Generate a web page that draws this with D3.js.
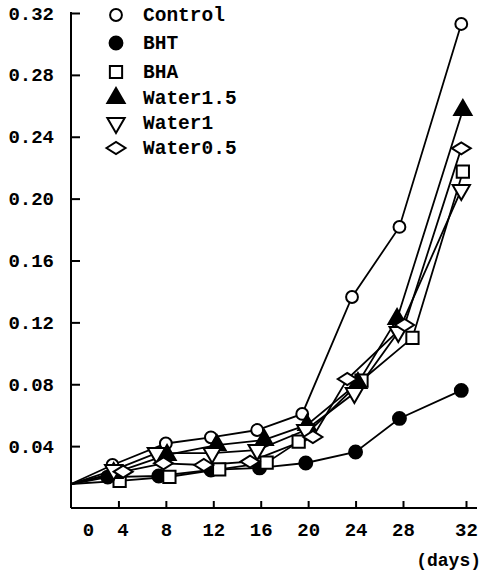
<!DOCTYPE html>
<html>
<head>
<meta charset="utf-8">
<script src="https://cdn.jsdelivr.net/npm/d3@7"></script>
<style>
  html, body { margin: 0; padding: 0; background: #fff; }
  svg text { font-family: "Liberation Mono", "DejaVu Sans Mono", monospace; font-weight: bold; fill: #000; }
</style>
</head>
<body>
<div id="chart"></div>
<script>
(() => {
// series (days are where each marker sits, values on the y axis)
const seriesNames = ['Control', 'BHT', 'BHA', 'Water1.5', 'Water1', 'Water0.5'];

const controlDays = [0, 3.5, 8, 11.8, 15.7, 19.5, 23.7, 27.7, 31.7];
const controlValues = [0.0155, 0.0278, 0.0417, 0.0457, 0.0504, 0.0608, 0.1364, 0.1817, 0.3129];

const bhtDays = [0, 3.1, 7.4, 11.8, 15.9, 19.8, 24.0, 27.7, 31.7];
const bhtValues = [0.0155, 0.0200, 0.0207, 0.0246, 0.0259, 0.0291, 0.0362, 0.0579, 0.0760];

const bhaDays = [0, 4.1, 8.3, 12.5, 16.5, 19.2, 24.5, 28.6, 31.8];
const bhaValues = [0.0155, 0.0175, 0.0202, 0.0250, 0.0293, 0.0429, 0.0824, 0.1100, 0.2174];

const water15Days = [0, 3.6, 8.1, 12.3, 16.3, 19.9, 24.2, 27.5, 31.8];
const water15Values = [0.0155, 0.0226, 0.0343, 0.0407, 0.0440, 0.0537, 0.0808, 0.1222, 0.2573];

const water1Days = [0, 3.6, 7.2, 11.9, 15.7, 19.8, 23.9, 27.6, 31.7];
const water1Values = [0.0155, 0.0245, 0.0355, 0.0355, 0.0375, 0.0504, 0.0743, 0.1138, 0.2056];

const water05Days = [0, 4.4, 7.8, 11.2, 15.1, 20.4, 23.3, 28.1, 31.7];
const water05Values = [0.0155, 0.0235, 0.0289, 0.0278, 0.0300, 0.0459, 0.0834, 0.1183, 0.2325];

const xTicks = [0, 4, 8, 12, 16, 20, 24, 28, 32];
const yTicks = [0.04, 0.08, 0.12, 0.16, 0.20, 0.24, 0.28, 0.32];

const width = 489;
const height = 572;

// the printed x axis is not quite even: the last step (28 -> 32) is drawn wider
const x = d3.scaleLinear().domain([0, 28, 32]).range([71, 403, 466]);
const y = d3.scaleLinear().domain([0, 0.32]).range([508, 13]);

const svg = d3.select('#chart')
    .append('svg')
    .attr('width', width)
    .attr('height', height);

// custom marker shapes
function diamondPath(w, h) {
    return `M${-w / 2},0L0,${-h / 2}L${w / 2},0L0,${h / 2}Z`;
}
const symCircle = d3.symbol().type(d3.symbolCircle).size(110);
const symSquare = d3.symbol().type(d3.symbolSquare).size(150);
const symTriangle = d3.symbol().type(d3.symbolTriangle).size(130);

const markers = {
    'Control': { path: symCircle(), fill: '#fff', rotate: 0 },
    'BHT': { path: d3.symbol().type(d3.symbolCircle).size(130)(), fill: '#000', rotate: 0 },
    'BHA': { path: symSquare(), fill: '#fff', rotate: 0 },
    'Water1.5': { path: symTriangle(), fill: '#000', rotate: 0 },
    'Water1': { path: symTriangle(), fill: '#fff', rotate: 180 },
    'Water0.5': { path: diamondPath(19, 12), fill: '#fff', rotate: 0 }
};

const series = [
    { name: 'Control', days: controlDays, values: controlValues },
    { name: 'BHT', days: bhtDays, values: bhtValues },
    { name: 'BHA', days: bhaDays, values: bhaValues },
    { name: 'Water1.5', days: water15Days, values: water15Values },
    { name: 'Water1', days: water1Days, values: water1Values },
    { name: 'Water0.5', days: water05Days, values: water05Values }
];

// axes
const xAxis = d3.axisBottom(x).tickValues(xTicks).tickSizeInner(-7).tickSizeOuter(0).tickPadding(15);
const yAxis = d3.axisLeft(y).tickValues(yTicks).tickSizeInner(-9).tickSizeOuter(0).tickPadding(17)
    .tickFormat(d3.format('.2f'));

const gx = svg.append('g')
    .attr('transform', `translate(0,${y(0)})`)
    .call(xAxis);
gx.select('.domain').attr('d', `M${x(0)},0H477`);
gx.selectAll('.tick text')
    .attr('font-size', 19)
    .attr('dx', d => d === 0 ? 17 : (d === 4 ? 4 : 0));
gx.selectAll('.tick').filter(d => d === 0).select('line').remove();

const gy = svg.append('g')
    .attr('transform', `translate(${x(0)},0)`)
    .call(yAxis);
gy.select('.domain').attr('d', `M0,${y(0)}V12`);
gy.selectAll('.tick text').attr('font-size', 19);

svg.selectAll('.domain, .tick line')
    .attr('stroke', '#000')
    .attr('stroke-width', 2);

svg.append('text')
    .attr('x', 481)
    .attr('y', 566)
    .attr('text-anchor', 'end')
    .attr('font-size', 18)
    .text('(days)');

// lines
const line = d3.line()
    .x(d => x(d[0]))
    .y(d => y(d[1]));

const plot = svg.append('g');

plot.selectAll('path.series')
    .data(series)
    .enter()
    .append('path')
    .attr('class', 'series')
    .attr('d', s => line(s.days.map((d, i) => [d, s.values[i]])))
    .attr('fill', 'none')
    .attr('stroke', '#000')
    .attr('stroke-width', 1.8);

// markers (skip the shared starting point at day 0)
series.forEach(s => {
    const m = markers[s.name];
    plot.selectAll(null)
        .data(s.days.map((d, i) => [d, s.values[i]]).slice(1))
        .enter()
        .append('path')
        .attr('d', m.path)
        .attr('transform', d => `translate(${x(d[0])},${y(d[1])}) rotate(${m.rotate})`)
        .attr('fill', m.fill)
        .attr('stroke', '#000')
        .attr('stroke-width', 2);
});

// legend
const legend = svg.append('g').attr('transform', 'translate(116,15)');
const legendStep = [0, 28, 57, 83, 108, 133];

seriesNames.forEach((name, i) => {
    const m = markers[name];
    const row = legend.append('g').attr('transform', `translate(0,${legendStep[i]})`);
    row.append('path')
        .attr('d', m.path)
        .attr('transform', `rotate(${m.rotate})`)
        .attr('fill', m.fill)
        .attr('stroke', '#000')
        .attr('stroke-width', 2);
    row.append('text')
        .attr('x', 27)
        .attr('y', 6)
        .attr('font-size', 19.5)
        .text(name);
});
})();
</script>
</body>
</html>
